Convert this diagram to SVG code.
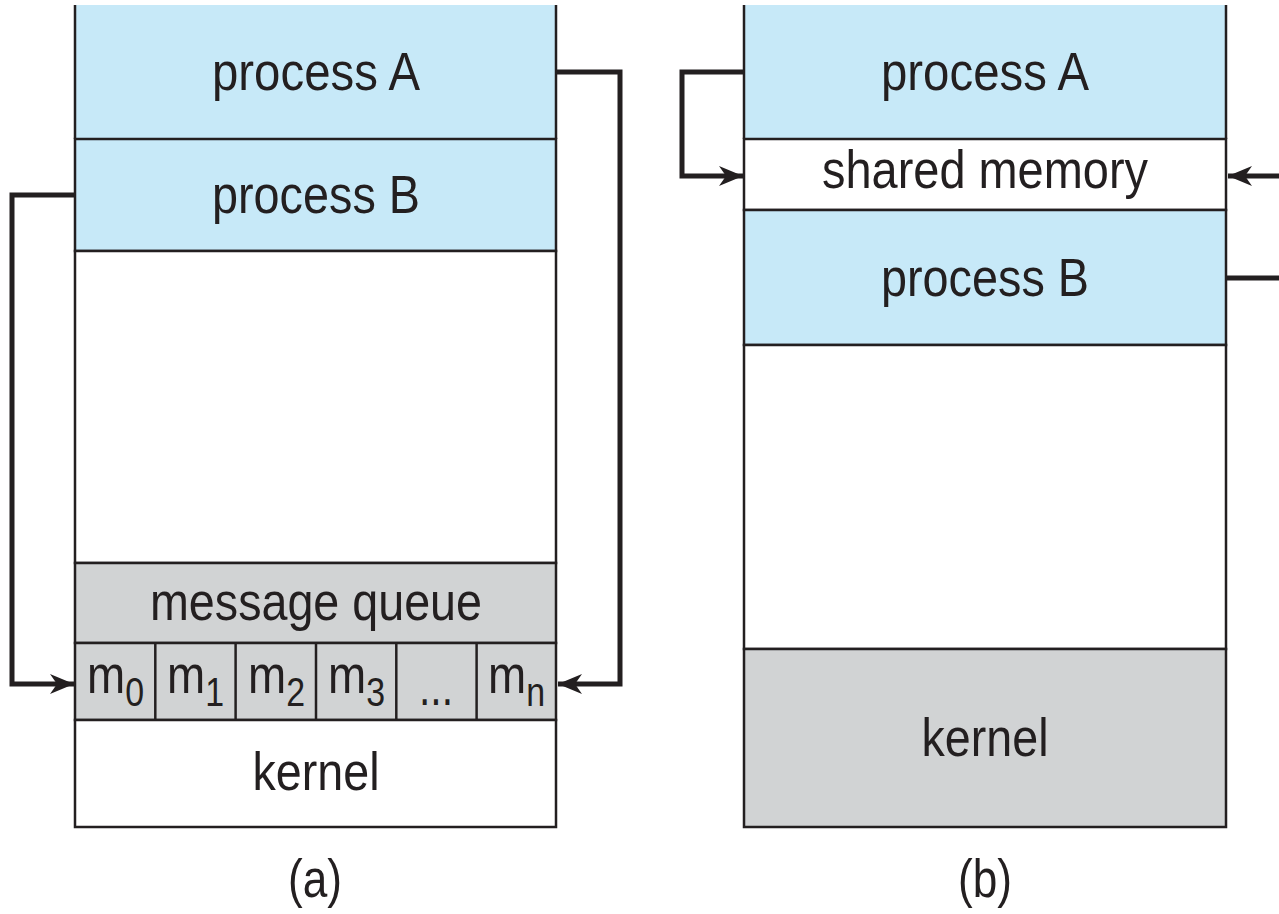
<svg xmlns="http://www.w3.org/2000/svg" width="1279" height="914" viewBox="0 0 1279 914">
<style>
.blue{fill:#c7e9f8;stroke:#231f20;stroke-width:2.5}
.gray{fill:#d1d3d4;stroke:#231f20;stroke-width:2.5}
.white{fill:#ffffff;stroke:#231f20;stroke-width:2.5}
.ln{stroke:#231f20;stroke-width:2.5}
.t{font-family:"Liberation Sans",Arial,sans-serif;font-size:54px;fill:#231f20;text-anchor:middle}
.m{font-family:"Liberation Sans",Arial,sans-serif;font-size:54px;fill:#231f20;text-anchor:start}
.sub{font-size:40px}
.conn{fill:none;stroke:#231f20;stroke-width:5;stroke-linejoin:miter}
</style>
<defs>
<marker id="ah" markerUnits="userSpaceOnUse" markerWidth="26" markerHeight="22" refX="24" refY="11" orient="auto" viewBox="0 0 26 22">
<path d="M0,1 L24,11 L0,21 L7,11 Z" fill="#231f20"/>
</marker>
</defs>
<rect width="1279" height="914" fill="#ffffff"/>

<!-- (a) message passing -->
<g id="a-processA">
<rect x="75" y="5" width="481" height="134" fill="#c7e9f8"/>
<line class="ln" x1="75" y1="5" x2="75" y2="139"/>
<line class="ln" x1="556" y1="5" x2="556" y2="139"/>
<text class="t" x="316" y="90" textLength="208" lengthAdjust="spacingAndGlyphs">process A</text>
</g>
<g id="a-processB">
<rect x="75" y="139" width="481" height="112" class="blue"/>
<text class="t" x="316" y="213" textLength="208" lengthAdjust="spacingAndGlyphs">process B</text>
</g>
<g id="a-free">
<rect x="75" y="251" width="481" height="312" class="white"/>
</g>
<g id="a-mq">
<rect x="75" y="563" width="481" height="80" class="gray"/>
<text class="t" x="316" y="620" textLength="332" lengthAdjust="spacingAndGlyphs">message queue</text>
</g>
<g id="a-cells">
<rect x="75" y="643" width="481" height="77" class="gray"/>
<line class="ln" x1="155.3" y1="643" x2="155.3" y2="720"/>
<line class="ln" x1="235.6" y1="643" x2="235.6" y2="720"/>
<line class="ln" x1="316" y1="643" x2="316" y2="720"/>
<line class="ln" x1="396.3" y1="643" x2="396.3" y2="720"/>
<line class="ln" x1="476.6" y1="643" x2="476.6" y2="720"/>
<text class="m" x="87" y="693" textLength="57" lengthAdjust="spacingAndGlyphs">m<tspan class="sub" dy="13">0</tspan></text>
<text class="m" x="167" y="693" textLength="57" lengthAdjust="spacingAndGlyphs">m<tspan class="sub" dy="13">1</tspan></text>
<text class="m" x="248" y="693" textLength="57" lengthAdjust="spacingAndGlyphs">m<tspan class="sub" dy="13">2</tspan></text>
<text class="m" x="328" y="693" textLength="57" lengthAdjust="spacingAndGlyphs">m<tspan class="sub" dy="13">3</tspan></text>
<text class="t" x="436" y="705" textLength="34" lengthAdjust="spacingAndGlyphs">...</text>
<text class="m" x="488" y="693" textLength="57" lengthAdjust="spacingAndGlyphs">m<tspan class="sub" dy="13">n</tspan></text>
</g>
<g id="a-kernel">
<rect x="75" y="720" width="481" height="107" class="white"/>
<text class="t" x="316" y="790" textLength="127" lengthAdjust="spacingAndGlyphs">kernel</text>
</g>
<g id="a-caption">
<text class="t" x="315" y="897" textLength="54" lengthAdjust="spacingAndGlyphs">(a)</text>
</g>

<!-- (b) shared memory -->
<g id="b-processA">
<rect x="744" y="5" width="482" height="134" fill="#c7e9f8"/>
<line class="ln" x1="744" y1="5" x2="744" y2="139"/>
<line class="ln" x1="1226" y1="5" x2="1226" y2="139"/>
<text class="t" x="985" y="90" textLength="208" lengthAdjust="spacingAndGlyphs">process A</text>
</g>
<g id="b-shared">
<rect x="744" y="139" width="482" height="71" class="white"/>
<text class="t" x="985" y="188" textLength="326" lengthAdjust="spacingAndGlyphs">shared memory</text>
</g>
<g id="b-processB">
<rect x="744" y="210" width="482" height="135" class="blue"/>
<text class="t" x="985" y="296" textLength="208" lengthAdjust="spacingAndGlyphs">process B</text>
</g>
<g id="b-free">
<rect x="744" y="345" width="482" height="304" class="white"/>
</g>
<g id="b-kernel">
<rect x="744" y="649" width="482" height="178" class="gray"/>
<text class="t" x="985" y="756" textLength="127" lengthAdjust="spacingAndGlyphs">kernel</text>
</g>
<g id="b-caption">
<text class="t" x="985" y="897" textLength="54" lengthAdjust="spacingAndGlyphs">(b)</text>
</g>

<g id="connectors">
<path class="conn" d="M75,195 H12 V684 H74" marker-end="url(#ah)"/>
<path class="conn" d="M556,72 H620 V684 H558" marker-end="url(#ah)"/>
<path class="conn" d="M744,72 H682 V176 H743" marker-end="url(#ah)"/>
<path class="conn" d="M1284,176 H1228" marker-end="url(#ah)"/>
<path class="conn" d="M1226,278 H1284"/>
</g>
</svg>
